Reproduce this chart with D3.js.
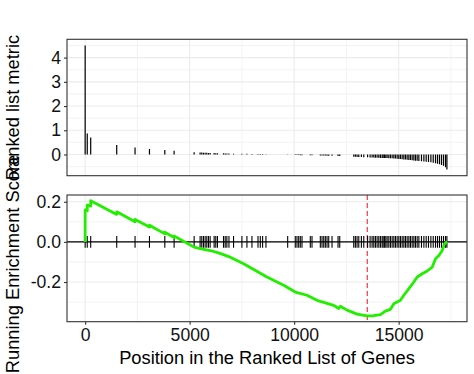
<!DOCTYPE html>
<html>
<head>
<meta charset="utf-8">
<script src="https://cdn.jsdelivr.net/npm/d3@7"></script>
<style>
  html, body { margin: 0; padding: 0; background: #fff; }
  svg { display: block; font-family: "Liberation Sans", Arial, Helvetica, sans-serif; }
</style>
</head>
<body>
<svg id="chart" width="474" height="374"></svg>
<script>
// ---------------- data ----------------
const geneCount = 17400;
const peakPosition = 13500;

const hitPositions = [
  0, 100, 265, 1510, 2387, 3077, 3811, 4256,
  5214, 5500, 5580, 5660, 5740, 5820, 5900, 5980, 6170, 6250, 6330, 6620, 6700, 6780, 6880, 7100, 7500, 7740, 7980, 8270, 8380, 8490, 8650,
  9690, 10054, 10135, 10217, 10293, 10375, 10772, 10854, 11252, 11333, 11415, 11492, 11573, 11654, 11812, 12100, 12181, 12852, 12929, 13010, 13092, 13216, 13331,
  13514, 13634, 13729, 13810, 13888, 13969, 14050, 14126, 14208, 14256,
  14318, 14385, 14448, 14529, 14606, 14688, 14769, 14846, 14927, 15008,
  15085, 15167, 15248, 15325, 15406, 15488, 15564, 15646, 15727, 15804,
  15886, 15967, 16092, 16207, 16317, 16427, 16542, 16653, 16763, 16859,
  16954, 17050, 17146, 17242, 17309
];
const hitMetric = [
  4.50, 0.87, 0.70, 0.39, 0.29, 0.23, 0.19, 0.15,
  0.09, 0.08, 0.08, 0.07, 0.07, 0.07, 0.06, 0.06, 0.06, 0.05, 0.05, 0.05, 0.04, 0.04, 0.04, 0.03, 0.03, 0.03, 0.02, 0.02, 0.02, 0.02, 0.01,
  0.01, -0.02, -0.02, -0.02, -0.03, -0.03, -0.03, -0.03, -0.04, -0.04, -0.04, -0.04, -0.05, -0.05, -0.05, -0.06, -0.06, -0.09, -0.09, -0.10, -0.10, -0.10, -0.11,
  -0.11, -0.12, -0.12, -0.12, -0.13, -0.13, -0.13, -0.14, -0.14, -0.14,
  -0.15, -0.15, -0.15, -0.16, -0.16, -0.16, -0.17, -0.17, -0.18, -0.19,
  -0.19, -0.20, -0.21, -0.21, -0.22, -0.23, -0.23, -0.24, -0.25, -0.26,
  -0.26, -0.27, -0.28, -0.29, -0.30, -0.31, -0.32, -0.34, -0.36, -0.38,
  -0.40, -0.43, -0.47, -0.53, -0.62
];

const esPositions = [0, 0, 100, 100, 265, 265, 1510, 1510, 2387, 2387, 3077, 3077, 3811, 3811, 4256, 4256,
  5214, 5500, 5980, 6383, 6939, 7581, 8697, 9498, 10054, 10614, 11094, 11894, 12133, 12210, 12531, 13011, 13490,
  13800, 14126, 14367, 14606, 14769, 15085, 15248, 15488, 15727, 15886, 16125, 16365, 16604, 16763, 16925, 17084, 17194, 17290, 17309];
const esValues = [0, 0.160, 0.155, 0.183, 0.178, 0.205, 0.137, 0.150, 0.100, 0.112, 0.074, 0.083, 0.040, 0.048, 0.022, 0.029,
  -0.026, -0.033, -0.043, -0.055, -0.076, -0.109, -0.175, -0.216, -0.250, -0.266, -0.291, -0.316, -0.332, -0.321, -0.340, -0.360, -0.369,
  -0.368, -0.362, -0.345, -0.336, -0.308, -0.291, -0.266, -0.233, -0.200, -0.175, -0.159, -0.145, -0.126, -0.084, -0.068, -0.043, -0.010, 0.000, 0.003];

const xTicks = [0, 5000, 10000, 15000];
const xTickLabels = ["0", "5000", "10000", "15000"];
const xMinorTicks = [2500, 7500, 12500, 17500];
const metricTicks = [0, 1, 2, 3, 4];
const metricTickLabels = ["0", "1", "2", "3", "4"];
const metricMinorTicks = [-0.5, 0.5, 1.5, 2.5, 3.5, 4.5];
const esTicks = [-0.2, 0.0, 0.2];
const esTickLabels = ["-0.2", "0.0", "0.2"];
const esMinorTicks = [-0.3, -0.1, 0.1];

const xTitle = "Position in the Ranked List of Genes";
const metricTitle = "Ranked list metric";
const esTitle = "Running Enrichment Score";

// ---------------- layout ----------------
const svg = d3.select("#chart");
const L = 67, R = 467;
const top1 = 39.3, bot1 = 175.7;
const top2 = 195, bot2 = 321.7;
const tickFont = 17.6, titleFont = 18.3;

function expand(lo, hi) { const d = (hi - lo) * 0.05; return [lo - d, hi + d]; }

const x = d3.scaleLinear().domain(expand(1, geneCount)).range([L, R]);
const yM = d3.scaleLinear().domain(expand(d3.min(hitMetric), d3.max(hitMetric))).range([bot1, top1]);
const yE = d3.scaleLinear().domain(expand(d3.min(esValues), d3.max(esValues))).range([bot2, top2]);

function panel(y, top, bot, majorY, minorY, clipId) {
  const g = svg.append("g");
  g.append("rect").attr("x", L).attr("y", top).attr("width", R - L).attr("height", bot - top).attr("fill", "#fff");
  g.selectAll(".mx").data(xMinorTicks.filter(v => x(v) > L && x(v) < R)).enter().append("line")
    .attr("x1", d => x(d)).attr("x2", d => x(d)).attr("y1", top).attr("y2", bot)
    .attr("stroke", "#EBEBEB").attr("stroke-width", 0.6);
  g.selectAll(".my").data(minorY).enter().append("line")
    .attr("x1", L).attr("x2", R).attr("y1", d => y(d)).attr("y2", d => y(d))
    .attr("stroke", "#EBEBEB").attr("stroke-width", 0.6);
  g.selectAll(".Mx").data(xTicks).enter().append("line")
    .attr("x1", d => x(d)).attr("x2", d => x(d)).attr("y1", top).attr("y2", bot)
    .attr("stroke", "#EBEBEB").attr("stroke-width", 1.1);
  g.selectAll(".My").data(majorY).enter().append("line")
    .attr("x1", L).attr("x2", R).attr("y1", d => y(d)).attr("y2", d => y(d))
    .attr("stroke", "#EBEBEB").attr("stroke-width", 1.1);
  svg.append("clipPath").attr("id", clipId).append("rect")
    .attr("x", L).attr("y", top).attr("width", R - L).attr("height", bot - top);
  return g;
}

// ---------- top panel ----------
panel(yM, top1, bot1, metricTicks, metricMinorTicks, "c1");
svg.append("g").attr("clip-path", "url(#c1)")
  .selectAll("line").data(hitPositions).enter().append("line")
  .attr("x1", d => x(d)).attr("x2", d => x(d))
  .attr("y1", yM(0)).attr("y2", (d, i) => yM(hitMetric[i]))
  .attr("stroke", "#000").attr("stroke-width", 1.2);
svg.append("rect").attr("x", L).attr("y", top1).attr("width", R - L).attr("height", bot1 - top1)
  .attr("fill", "none").attr("stroke", "#333333").attr("stroke-width", 1.1);

const axM = svg.append("g").attr("transform", `translate(${L},0)`)
  .call(d3.axisLeft(yM).tickValues(metricTicks).tickFormat((d, i) => metricTickLabels[i]).tickSize(3).tickPadding(3));
axM.select(".domain").remove();

// ---------- bottom panel ----------
panel(yE, top2, bot2, esTicks, esMinorTicks, "c2");
const g2 = svg.append("g").attr("clip-path", "url(#c2)");
g2.append("line").attr("x1", x(peakPosition)).attr("x2", x(peakPosition)).attr("y1", top2).attr("y2", bot2)
  .attr("stroke", "#f2505f").attr("stroke-width", 1.4).attr("stroke-dasharray", "5,3");
g2.append("line").attr("x1", L).attr("x2", R).attr("y1", yE(0)).attr("y2", yE(0))
  .attr("stroke", "#000").attr("stroke-width", 1.3);
g2.selectAll(".hit").data(hitPositions).enter().append("line")
  .attr("x1", d => x(d)).attr("x2", d => x(d))
  .attr("y1", yE(0.029)).attr("y2", yE(-0.029))
  .attr("stroke", "#000").attr("stroke-width", 1.1);
const esLine = d3.line().x((d, i) => x(esPositions[i])).y(d => yE(d));
g2.append("path").datum(esValues).attr("d", esLine)
  .attr("fill", "none").attr("stroke", "#22ee00").attr("stroke-width", 2.8).attr("stroke-linejoin", "round");
svg.append("rect").attr("x", L).attr("y", top2).attr("width", R - L).attr("height", bot2 - top2)
  .attr("fill", "none").attr("stroke", "#333333").attr("stroke-width", 1.1);

const axE = svg.append("g").attr("transform", `translate(${L},0)`)
  .call(d3.axisLeft(yE).tickValues(esTicks).tickFormat((d, i) => esTickLabels[i]).tickSize(3).tickPadding(3));
axE.select(".domain").remove();

const axX = svg.append("g").attr("transform", `translate(0,${bot2})`)
  .call(d3.axisBottom(x).tickValues(xTicks).tickFormat((d, i) => xTickLabels[i]).tickSize(3).tickPadding(4));
axX.select(".domain").remove();

svg.selectAll(".tick line").attr("stroke", "#333333").attr("stroke-width", 1.1);
svg.selectAll(".tick text").attr("fill", "#111").style("font-size", tickFont + "px")
  .style("font-family", '"Liberation Sans", Arial, sans-serif');

// ---------- titles ----------
svg.append("text").attr("x", (L + R) / 2).attr("y", 364.3).attr("text-anchor", "middle")
  .style("font-size", titleFont + "px").attr("fill", "#000").text(xTitle);
svg.append("text").attr("transform", `translate(18.5,${(top1 + bot1) / 2}) rotate(-90)`).attr("text-anchor", "middle")
  .style("font-size", titleFont + "px").attr("fill", "#000").text(metricTitle);
svg.append("text").attr("transform", `translate(18.5,264) rotate(-90)`).attr("text-anchor", "middle")
  .style("font-size", titleFont + "px").attr("fill", "#000").text(esTitle);
</script>
</body>
</html>
